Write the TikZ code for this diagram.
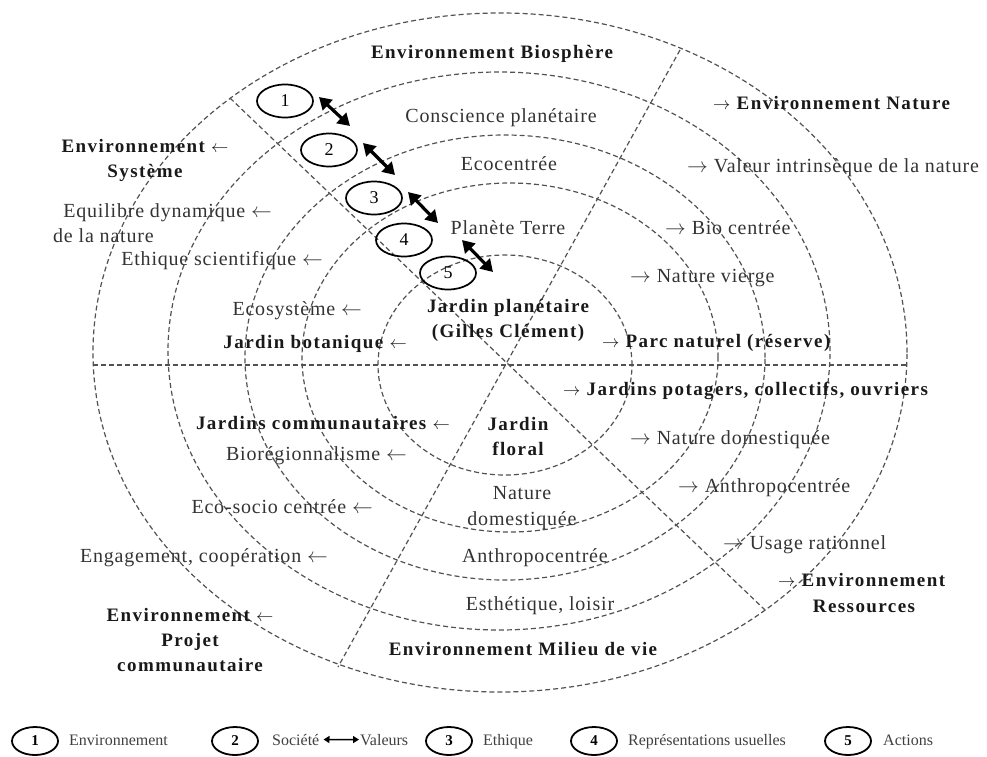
\documentclass[tikz,border=0pt]{standalone}
\usepackage{fontspec}
\setmainfont{Liberation Serif}
\newfontfamily\regf[LetterSpace=4]{Liberation Serif}
\newfontfamily\bldf[LetterSpace=7.5]{Liberation Serif}
\newcommand{\ra}{$\rightarrow$}
\newcommand{\la}{$\leftarrow$}
\usetikzlibrary{shapes.geometric,arrows.meta}
\begin{document}
\begin{tikzpicture}[x=1pt,y=-1pt,
  ring/.style={draw=black!68, dash pattern=on 5pt off 3pt, line width=1.2pt},
  rt/.style={font=\regf\fontsize{20}{26}\selectfont, text=black!80, inner sep=0pt, align=center},
  bt/.style={font=\bldf\bfseries\fontsize{19}{25}\selectfont, text=black!90, inner sep=0pt, align=center},
  numel/.style={ellipse, draw=black, line width=1.7pt, minimum width=56pt, minimum height=33pt, inner sep=0pt, font=\regf\fontsize{18}{20}\selectfont},
  legel/.style={ellipse, draw=black, line width=1.8pt, minimum width=46pt, minimum height=28pt, inner sep=0pt, font=\fontsize{15}{18}\selectfont\bfseries},
  lt/.style={font=\fontsize{16}{18}\selectfont, text=black!75, inner sep=0pt, anchor=base west},
  dbl/.style={{Triangle[length=12pt,width=14pt]}-{Triangle[length=12pt,width=14pt]}, line width=3.2pt},
  legarr/.style={{Triangle[length=6pt,width=7pt]}-{Triangle[length=6pt,width=7pt]}, line width=1.5pt, shorten <=4pt, shorten >=1pt},
]
\useasboundingbox (0,0) rectangle (987,756);

% rings
\draw[ring] (500,352.5) ellipse [x radius=407pt, y radius=339.5pt];
\draw[ring] (499,351) ellipse [x radius=331pt, y radius=279pt];
\draw[ring] (505,357.5) ellipse [x radius=260pt, y radius=222.5pt];
\draw[ring] (510,357.5) ellipse [x radius=208pt, y radius=174.5pt];
\draw[ring] (505,365) ellipse [x radius=127pt, y radius=110pt];
% dividing lines
\draw[ring] (93,365) -- (907,365);
\draw[ring] (230,98) -- (765,610);
\draw[ring] (680,50) -- (338,667);

% top
\node[bt, anchor=base] (biosph) at (492,58) {Environnement Biosphère};
\node[rt, anchor=base] (consc) at (501,122) {Conscience planétaire};
\node[rt, anchor=base] (ecoc) at (509,170) {Ecocentrée};
\node[rt, anchor=base] (terre) at (508,234) {Planète Terre};
\node[bt] (jplan) at (508,320) {Jardin planétaire\\(Gilles Clément)};

% right upper
\node[bt, anchor=base west] (envnat) at (713,109) {\ra{} Environnement Nature};
\node[rt, anchor=base west] (valeur) at (687,172) {\ra{} Valeur intrinsèque de la nature};
\node[rt, anchor=base west] (bioc) at (665,234) {\ra{} Bio centrée};
\node[rt, anchor=base west] (nvierge) at (630,282) {\ra{} Nature vierge};
\node[bt, anchor=base west] (parc) at (602,347) {\ra{} Parc naturel (réserve)};

% left upper
\node[bt] (envsys) at (145,160) {Environnement \la\\Système};
\node[rt, anchor=base east] (equi) at (272,217) {Equilibre dynamique \la};
\node[rt, anchor=base west] (delanat) at (53,242) {de la nature};
\node[rt, anchor=base east] (ethsci) at (323,265) {Ethique scientifique \la};
\node[rt, anchor=base east] (ecosys) at (362,315) {Ecosystème \la};
\node[bt, anchor=base east] (jbot) at (407,348) {Jardin botanique \la};

% left lower
\node[bt, anchor=base east] (jcomm) at (450,429) {Jardins communautaires \la};
\node[rt, anchor=base east] (bioreg) at (407,460) {Biorégionnalisme \la};
\node[rt, anchor=base east] (ecosoc) at (373,513) {Eco-socio centrée \la};
\node[rt, anchor=base east] (engag) at (328,562) {Engagement, coopération \la};
\node[bt] (envproj) at (190,640) {Environnement \la\\Projet\\communautaire};

% center lower
\node[bt] (jflor) at (518,436) {Jardin\\floral};
\node[rt] (natdom) at (522,508) {Nature\\domestiquée};
\node[rt, anchor=base] (anthro) at (535,562) {Anthropocentrée};
\node[rt, anchor=base] (esth) at (540,610) {Esthétique, loisir};
\node[bt, anchor=base] (milieu) at (523,655) {Environnement Milieu de vie};

% right lower
\node[bt, anchor=base west] (jpot) at (563,395) {\ra{} Jardins potagers, collectifs, ouvriers};
\node[rt, anchor=base west] (natdom2) at (630,444) {\ra{} Nature domestiquée};
\node[rt, anchor=base west] (anthro2) at (678,492) {\ra{} Anthropocentrée};
\node[rt, anchor=base west] (usage) at (723,549) {\ra{} Usage rationnel};
\node[bt, anchor=base west] (envres) at (778,586) {\ra{} Environnement};
\node[bt, anchor=base] (ress) at (864,612) {Ressources};

% numbered ellipses
\node[numel] (e1) at (285,101) {1};
\node[numel] (e2) at (329,150) {2};
\node[numel] (e3) at (374,198) {3};
\node[numel] (e4) at (404,240) {4};
\node[numel] (e5) at (448,273) {5};

% double arrows
\coordinate (a1s) at (319,97);  \coordinate (a1e) at (350,126);
\coordinate (a2s) at (363,143); \coordinate (a2e) at (395,175);
\coordinate (a3s) at (408,192); \coordinate (a3e) at (438,223);
\coordinate (a4s) at (462,240); \coordinate (a4e) at (493,272);
\draw[dbl] (a1s) -- (a1e);
\draw[dbl] (a2s) -- (a2e);
\draw[dbl] (a3s) -- (a3e);
\draw[dbl] (a4s) -- (a4e);

% legend
\node[legel] (l1) at (35,741) {1};
\node[lt] (lt1) at (69,745) {Environnement};
\node[legel] (l2) at (235,741) {2};
\node[lt] (lt2a) at (272,745) {Société};
\node[lt] (lt2b) at (360,745) {Valeurs};
\draw[legarr] (lt2a.east) -- (lt2b.west);
\node[legel] (l3) at (449,741) {3};
\node[lt] (lt3) at (483,745) {Ethique};
\node[legel] (l4) at (594,741) {4};
\node[lt] (lt4) at (628,745) {Représentations usuelles};
\node[legel] (l5) at (848,741) {5};
\node[lt] (lt5) at (883,745) {Actions};
\end{tikzpicture}
\end{document}
